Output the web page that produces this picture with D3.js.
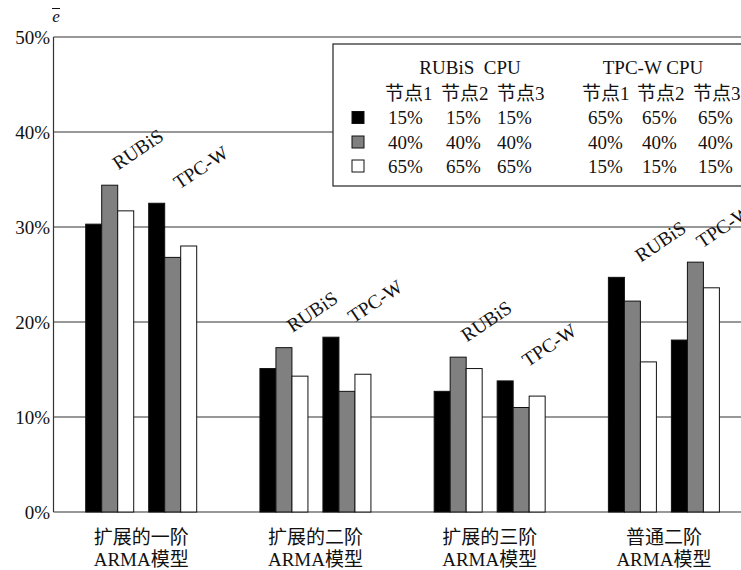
<!DOCTYPE html>
<html>
<head>
<meta charset="utf-8">
<script src="https://cdn.jsdelivr.net/npm/d3@7"></script>
<style>
  body { margin: 0; background: #fff; }
  text { font-family: "Liberation Serif", "Noto Sans CJK SC", serif; fill: #111; }
</style>
</head>
<body>
<div id="chart"></div>
<script>
//////////////////////////////////////////////////////////////////////////////
// Data

var models     = ["扩展的一阶", "扩展的二阶", "扩展的三阶", "普通二阶"];
var modelLine2 = "ARMA模型";
var workloads  = ["RUBiS", "TPC-W"];
var rubisVals  = [[30.3, 34.4, 31.7], [15.1, 17.3, 14.3], [12.7, 16.3, 15.1], [24.7, 22.2, 15.8]];
var tpcwVals   = [[32.5, 26.8, 28.0], [18.4, 12.7, 14.5], [13.8, 11.0, 12.2], [18.1, 26.3, 23.6]];
var yTicks     = [0, 10, 20, 30, 40, 50];

var legendHeads = ["RUBiS  CPU", "TPC-W CPU"];
var nodeNames   = ["节点1", "节点2", "节点3"];
var legendRubis = [["15%", "15%", "15%"], ["40%", "40%", "40%"], ["65%", "65%", "65%"]];
var legendTpcw  = [["65%", "65%", "65%"], ["40%", "40%", "40%"], ["15%", "15%", "15%"]];

var fills = ["#000000", "#808080", "#ffffff"];

//////////////////////////////////////////////////////////////////////////////
// Scales

var svgW = 741, svgH = 570;
var plotLeft = 53.5, plotBottom = 512, plotTop = 37;

var svg = d3.select("#chart").append("svg")
    .attr("width", svgW)
    .attr("height", svgH);

var yScale = d3.scaleLinear().domain([0, 50]).range([plotBottom, plotTop]);
var xGroup = d3.scalePoint().domain(models).range([141.2, 663.9]);
var xSub   = d3.scaleBand().domain(workloads).range([-55.5, 55.5]).paddingInner(0.238);
var xBar   = d3.scaleBand().domain([0, 1, 2]).range([0, xSub.bandwidth()]);

//////////////////////////////////////////////////////////////////////////////
// Grid + axis

svg.append("g").selectAll("line")
    .data(yTicks)
    .enter()
    .append("line")
    .attr("x1", plotLeft).attr("x2", svgW)
    .attr("y1", function(d) { return yScale(d); })
    .attr("y2", function(d) { return yScale(d); })
    .attr("stroke", "#333").attr("stroke-width", 1.2);

svg.append("line")
    .attr("x1", plotLeft).attr("x2", plotLeft)
    .attr("y1", yScale(50)).attr("y2", yScale(0))
    .attr("stroke", "#333").attr("stroke-width", 1.2);

svg.append("g").selectAll("text")
    .data(yTicks)
    .enter()
    .append("text")
    .attr("x", 50)
    .attr("y", function(d) { return yScale(d); })
    .attr("dy", "0.35em")
    .attr("text-anchor", "end")
    .attr("font-size", 19)
    .text(function(d) { return d + "%"; });

svg.append("text")
    .attr("x", 56).attr("y", 22)
    .attr("text-anchor", "middle")
    .attr("font-size", 17)
    .attr("font-style", "italic")
    .text("e");
svg.append("line")
    .attr("x1", 52).attr("x2", 60)
    .attr("y1", 8.5).attr("y2", 8.5)
    .attr("stroke", "#111").attr("stroke-width", 1);

//////////////////////////////////////////////////////////////////////////////
// Legend

var lg = svg.append("g");
lg.append("rect")
    .attr("x", 333).attr("y", 44)
    .attr("width", 420).attr("height", 142)
    .attr("fill", "#fff")
    .attr("stroke", "#333").attr("stroke-width", 1.3);

var headX = [470, 653];
var colX = [[385, 441, 497], [582, 637, 693]];
var valX = [[388, 446, 497], [588, 642, 698]];
var rowY = [117.5, 142, 166];

lg.selectAll("text.head")
    .data(legendHeads)
    .enter()
    .append("text")
    .attr("x", function(d, i) { return headX[i]; })
    .attr("y", 67).attr("dy", "0.35em")
    .attr("text-anchor", "middle")
    .attr("font-size", 19)
    .style("white-space", "pre")
    .text(function(d) { return d; });

[0, 1].forEach(function(s) {
    lg.selectAll("text.node" + s)
        .data(nodeNames)
        .enter()
        .append("text")
        .attr("x", function(d, i) { return colX[s][i]; })
        .attr("y", 93).attr("dy", "0.35em")
        .attr("font-size", 19)
        .text(function(d) { return d; });
    var rows = s === 0 ? legendRubis : legendTpcw;
    rows.forEach(function(row, r) {
        lg.selectAll("text.v" + s + "_" + r)
            .data(row)
            .enter()
            .append("text")
            .attr("x", function(d, i) { return valX[s][i]; })
            .attr("y", rowY[r]).attr("dy", "0.35em")
            .attr("font-size", 19)
            .text(function(d) { return d; });
    });
});

lg.selectAll("rect.sw")
    .data(fills)
    .enter()
    .append("rect")
    .attr("x", 352)
    .attr("y", function(d, i) { return rowY[i] - 6; })
    .attr("width", 12).attr("height", 12)
    .attr("fill", function(d) { return d; })
    .attr("stroke", "#111").attr("stroke-width", 1);

//////////////////////////////////////////////////////////////////////////////
// Bars

var groups = [];
models.forEach(function(m, i) {
    groups.push({ model: m, wl: "RUBiS", vals: rubisVals[i] });
    groups.push({ model: m, wl: "TPC-W", vals: tpcwVals[i] });
});

var g = svg.append("g").selectAll("g")
    .data(groups)
    .enter()
    .append("g")
    .attr("transform", function(d) {
        return "translate(" + (xGroup(d.model) + xSub(d.wl)) + ",0)";
    });

g.selectAll("rect")
    .data(function(d) { return d.vals; })
    .enter()
    .append("rect")
    .attr("x", function(d, i) { return xBar(i); })
    .attr("y", function(d) { return yScale(d); })
    .attr("width", xBar.bandwidth())
    .attr("height", function(d) { return yScale(0) - yScale(d); })
    .attr("fill", function(d, i) { return fills[i]; })
    .attr("stroke", "#111").attr("stroke-width", 1);

// rotated series names above each cluster
g.append("text")
    .attr("transform", function(d) {
        var cx = xSub.bandwidth() / 2 + 28;
        var cy = yScale(d3.max(d.vals)) - 36;
        return "translate(" + cx + "," + cy + ") rotate(-34)";
    })
    .attr("text-anchor", "middle")
    .attr("dy", "0.35em")
    .attr("font-size", 19.5)
    .text(function(d) { return d.wl; });

//////////////////////////////////////////////////////////////////////////////
// Category labels

var cl = svg.append("g").selectAll("g")
    .data(models)
    .enter()
    .append("g")
    .attr("transform", function(d) { return "translate(" + xGroup(d) + ",0)"; });

cl.append("text")
    .attr("y", 537).attr("dy", "0.35em")
    .attr("text-anchor", "middle")
    .attr("font-size", 19)
    .text(function(d) { return d; });

cl.append("text")
    .attr("y", 559).attr("dy", "0.35em")
    .attr("text-anchor", "middle")
    .attr("font-size", 19)
    .text(modelLine2);
</script>
</body>
</html>
